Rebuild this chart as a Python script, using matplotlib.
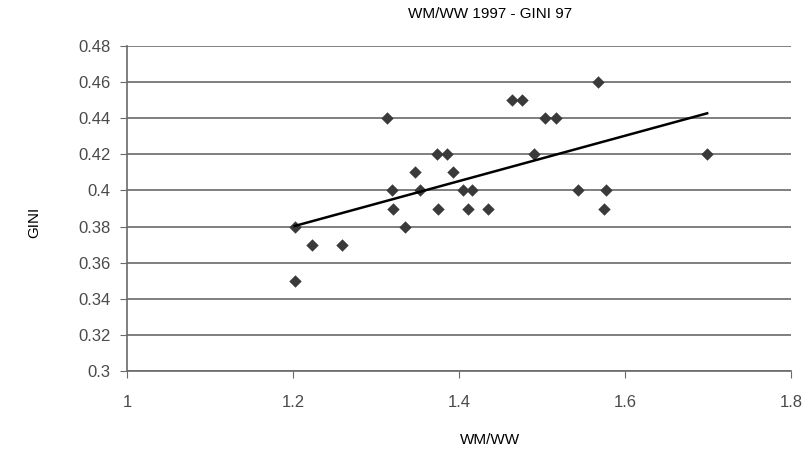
import numpy as np
import matplotlib
matplotlib.use('Agg')
import matplotlib.pyplot as plt

plt.rcParams['font.family'] = ['Liberation Sans', 'DejaVu Sans']

# WM/WW ratio vs GINI, 1997
wm_ww = [1.202, 1.202, 1.223, 1.259, 1.313, 1.319, 1.320, 1.335, 1.347, 1.353,
         1.373, 1.386, 1.393, 1.375, 1.405, 1.416, 1.411, 1.435, 1.464, 1.476,
         1.490, 1.504, 1.517, 1.543, 1.567, 1.577, 1.575, 1.699]
gini = [0.35, 0.38, 0.37, 0.37, 0.44, 0.40, 0.39, 0.38, 0.41, 0.40,
        0.42, 0.42, 0.41, 0.39, 0.40, 0.40, 0.39, 0.39, 0.45, 0.45,
        0.42, 0.44, 0.44, 0.40, 0.46, 0.40, 0.39, 0.42]

x_ticks = [1, 1.2, 1.4, 1.6, 1.8]
y_ticks = [0.3, 0.32, 0.34, 0.36, 0.38, 0.4, 0.42, 0.44, 0.46, 0.48]

W, H = 808, 458
fig = plt.figure(figsize=(W / 100, H / 100), dpi=100)
ax = fig.add_axes([127 / W, 1 - 371 / H, (791 - 127) / W, (371 - 46) / H])

ax.scatter(wm_ww, gini, marker='D', s=40, color='#3a3a3a', zorder=3, linewidths=0)

# linear trendline
slope, intercept = np.polyfit(wm_ww, gini, 1)
xs = np.array([min(wm_ww), max(wm_ww)])
ax.plot(xs, slope * xs + intercept, color='black', lw=1.8, zorder=4)

ax.set_xlim(1, 1.8)
ax.set_ylim(0.3, 0.48)
ax.set_xticks(x_ticks)
ax.set_xticklabels(['1', '1.2', '1.4', '1.6', '1.8'])
ax.set_yticks(y_ticks)
ax.set_yticklabels(['0.3', '0.32', '0.34', '0.36', '0.38', '0.4', '0.42', '0.44', '0.46', '0.48'])
ax.yaxis.grid(True, color='#6a6a6a', lw=1.2)
ax.set_axisbelow(True)

for s in ['top', 'right']:
    ax.spines[s].set_visible(False)
for s in ['left', 'bottom']:
    ax.spines[s].set_color('#6a6a6a')
    ax.spines[s].set_linewidth(1.2)
ax.tick_params(direction='out', length=5, color='#6a6a6a', labelcolor='#4a4a4a',
               labelsize=12, pad=7)
ax.tick_params(axis='x', pad=12)

fig.text(490 / W, 1 - 14 / H, 'WM/WW 1997 - GINI 97', fontsize=11,
         ha='center', va='center')
fig.text(490 / W, 1 - 440 / H, 'WM/WW', fontsize=11, ha='center', va='center')
fig.text(34 / W, 1 - 222 / H, 'GINI', fontsize=11, ha='center', va='center',
         rotation=90)

fig.savefig('out.png', dpi=100)
